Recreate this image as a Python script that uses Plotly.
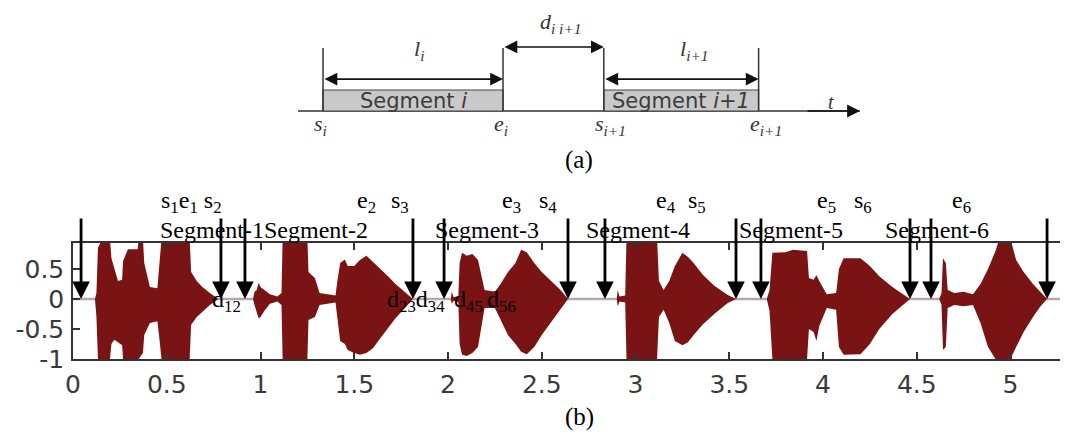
import plotly.graph_objects as go

# ---------------- (b) waveform data: envelope ----------------
env_t = [0.0, 0.117, 0.125, 0.133, 0.155, 0.197, 0.205, 0.220, 0.240, 0.262, 0.267, 0.293, 0.345,
         0.350, 0.373, 0.380, 0.410, 0.450, 0.462, 0.472, 0.622, 0.630, 0.660, 0.690, 0.730, 0.775,
         0.960, 0.968, 0.980, 0.990, 1.000, 1.020, 1.050, 1.090, 1.112, 1.118, 1.250, 1.256, 1.290,
         1.315, 1.400, 1.410, 1.425, 1.450, 1.465, 1.500, 1.530, 1.565, 1.600, 1.640, 1.680, 1.720,
         1.770, 1.813,
         2.015, 2.020, 2.030, 2.055, 2.062, 2.075, 2.100, 2.130, 2.160, 2.180, 2.195, 2.250, 2.280,
         2.320, 2.360, 2.390, 2.420, 2.460, 2.500, 2.550, 2.600, 2.640,
         2.900, 2.905, 2.915, 2.945, 2.952, 3.115, 3.125, 3.150, 3.180, 3.210, 3.250, 3.280, 3.310,
         3.360, 3.420, 3.490, 3.536,
         3.700, 3.715, 3.730, 3.800, 3.840, 3.915, 3.925, 3.950, 3.965, 3.980, 4.020, 4.070, 4.085,
         4.110, 4.200, 4.250, 4.300, 4.370, 4.464,
         4.620, 4.632, 4.640, 4.655, 4.665, 4.700, 4.750, 4.800, 4.840, 4.880, 4.920, 4.940, 5.000,
         5.030, 5.070, 5.120, 5.160, 5.195, 5.400]
env_up = [0, 0, 0.1, 0.85, 1.0, 1.0, 0.68, 0.5, 0.3, 0.32, 0.63, 0.83, 0.83,
          1.0, 1.0, 0.6, 0.2, 0.18, 0.6, 1.0, 1.0, 0.45, 0.3, 0.2, 0.1, 0,
          0, 0.12, 0.15, 0.27, 0.2, 0.15, 0.08, 0.04, 0.1, 1.0, 1.0, 0.45, 0.35,
          0.1, 0.06, 0.3, 0.6, 0.66, 0.55, 0.55, 0.65, 0.72, 0.62, 0.5, 0.38, 0.25,
          0.12, 0,
          0, 0.12, 0.03, 0.05, 0.6, 0.77, 0.72, 0.75, 0.65, 0.35, 0.15, 0.12, 0.25,
          0.45, 0.6, 0.82, 0.78, 0.6, 0.45, 0.3, 0.15, 0,
          0, 0.15, 0.04, 0.06, 1.0, 1.0, 0.3, 0.15, 0.3, 0.55, 0.77, 0.7, 0.6,
          0.4, 0.22, 0.07, 0,
          0, 0.15, 0.77, 0.78, 0.82, 0.8, 0.35, 0.32, 0.4, 0.3, 0.08, 0.1, 0.5,
          0.68, 0.68, 0.55, 0.38, 0.2, 0,
          0, 0.1, 0.68, 0.6, 0.15, 0.1, 0.12, 0.08, 0.25, 0.5, 0.8, 1.0, 1.0,
          0.65, 0.45, 0.25, 0.12, 0, 0]
env_lo = [0, 0, -0.3, -1.0, -1.0, -1.0, -0.75, -0.68, -0.72, -0.77, -1.0, -1.0, -1.0,
          -1.0, -0.9, -0.6, -0.4, -0.37, -0.7, -1.0, -1.0, -0.43, -0.3, -0.22, -0.1, 0,
          0, -0.1, -0.22, -0.32, -0.3, -0.2, -0.08, -0.04, -0.1, -1.0, -1.0, -0.35, -0.3,
          -0.1, -0.06, -0.35, -0.7, -0.75, -0.85, -0.9, -0.93, -0.9, -0.82, -0.65, -0.48, -0.32,
          -0.15, 0,
          0, -0.08, -0.03, -0.05, -0.75, -0.93, -0.95, -0.9, -0.8, -0.45, -0.15, -0.15, -0.35,
          -0.6, -0.75, -0.88, -0.92, -0.8, -0.6, -0.38, -0.18, 0,
          0, -0.12, -0.04, -0.06, -1.0, -1.0, -0.3, -0.18, -0.4, -0.7, -0.77, -0.72, -0.6,
          -0.42, -0.25, -0.07, 0,
          0, -0.2, -1.0, -1.0, -1.0, -1.0, -0.5, -0.55, -0.7, -0.45, -0.15, -0.18, -0.8,
          -0.93, -0.92, -0.75, -0.5, -0.25, 0,
          0, -0.1, -0.85, -0.8, -0.15, -0.1, -0.12, -0.1, -0.4, -0.8, -1.0, -1.0, -1.0,
          -0.8, -0.55, -0.3, -0.12, 0, 0]

# segment boundaries s1 e1 s2 e2 ... (seconds)
boundary_t = [0.043, 0.789, 0.917, 1.813, 1.979, 2.64, 2.837, 3.536, 3.669, 4.464, 4.576, 5.195]

x_ticks = [0, 0.5, 1, 1.5, 2, 2.5, 3, 3.5, 4, 4.5, 5]
x_ticktext = ["0", "0.5", "1", "1.5", "2", "2.5", "3", "3.5", "4", "4.5", "5"]
y_ticks = [-1, -0.5, 0, 0.5]
y_ticktext = ["-1", "-0.5", "0", "0.5"]

se_labels = ["s<sub>1</sub>e<sub>1</sub> s<sub>2</sub>", "e<sub>2</sub>", "s<sub>3</sub>", "e<sub>3</sub>",
             "s<sub>4</sub>", "e<sub>4</sub>", "s<sub>5</sub>", "e<sub>5</sub>", "s<sub>6</sub>", "e<sub>6</sub>"]
se_label_t = [0.63, 1.563, 1.744, 2.341, 2.533, 3.163, 3.328, 4.021, 4.213, 4.741]
seg_labels = ["Segment-1Segment-2", "Segment-3", "Segment-4", "Segment-5", "Segment-6"]
seg_label_t = [1.02, 2.208, 3.013, 3.829, 4.608]
gap_labels = ["d<sub>12</sub>", "d<sub>23</sub>d<sub>34</sub>", "d<sub>45</sub>", "d<sub>56</sub>"]
gap_label_t = [0.816, 1.829, 2.107, 2.283]

# ---------------- (a) schematic data ----------------
scheme_bounds = [0.0, 1.0, 1.56, 2.42]        # s_i, e_i, s_i+1, e_i+1
scheme_axis = [-0.139, 2.983]                 # time axis start / arrow tip
scheme_bound_labels = ["<i>s<sub>i</sub></i>", "<i>e<sub>i</sub></i>",
                       "<i>s<sub>i+1</sub></i>", "<i>e<sub>i+1</sub></i>"]

RED = "#7a1414"
INK = "#333333"
W, H = 1068, 445
OFF = 8          # page body margin of the html page (pixels)
TOP_H = 170      # pixel height of the schematic panel


def px(xw):      # window x pixel -> figure paper fraction
    return min(1.0, (xw - OFF) / W)


def py(yw):      # window y pixel -> figure paper fraction
    return 1 - (yw - OFF) / H


fig = go.Figure()

# waveform envelope
fig.add_trace(go.Scatter(x=env_t, y=env_lo, mode="lines", line=dict(color=RED, width=0),
                         showlegend=False, hoverinfo="skip", xaxis="x", yaxis="y"))
fig.add_trace(go.Scatter(x=env_t, y=env_up, mode="lines", line=dict(color=RED, width=0),
                         fill="tonexty", fillcolor=RED, showlegend=False, hoverinfo="skip",
                         xaxis="x", yaxis="y"))

# schematic: time axis line
fig.add_trace(go.Scatter(x=scheme_axis, y=[0, 0], mode="lines", line=dict(color=INK, width=1.5),
                         showlegend=False, hoverinfo="skip", xaxis="x2", yaxis="y2"))
# schematic: segment boxes
for k in (0, 2):
    a, b = scheme_bounds[k], scheme_bounds[k + 1]
    fig.add_trace(go.Scatter(x=[a, b, b, a, a], y=[0, 0, 1, 1, 0], mode="lines", fill="toself",
                             fillcolor="#c9c9c9", line=dict(color="#444444", width=1.2),
                             showlegend=False, hoverinfo="skip", xaxis="x2", yaxis="y2"))
# schematic: boundary markers
for b in scheme_bounds:
    fig.add_trace(go.Scatter(x=[b, b], y=[0, 3.0], mode="lines", line=dict(color=INK, width=1.5),
                             showlegend=False, hoverinfo="skip", xaxis="x2", yaxis="y2"))

ann = []
serif = "Liberation Serif"


def dbl_arrow(x0, x1, yv):
    ann.append(dict(x=x1, y=yv, ax=x0, ay=yv, xref="x2", yref="y2", axref="x2", ayref="y2",
                    text="", showarrow=True, arrowhead=2, startarrowhead=2, arrowside="end+start",
                    arrowsize=1.6, startarrowsize=1.6, arrowwidth=1.6, arrowcolor="#111"))


dbl_arrow(scheme_bounds[0], scheme_bounds[1], 1.52)
dbl_arrow(scheme_bounds[2], scheme_bounds[3], 1.52)
dbl_arrow(scheme_bounds[1], scheme_bounds[2], 3.05)
ann.append(dict(x=scheme_axis[1], y=0, ax=scheme_axis[1] - 0.3, ay=0, xref="x2", yref="y2",
                axref="x2", ayref="y2", text="", showarrow=True, arrowhead=2, arrowsize=1.6,
                arrowwidth=1.6, arrowcolor="#111"))

# schematic labels
for k in (0, 2):
    a, b = scheme_bounds[k], scheme_bounds[k + 1]
    txt = "Segment <i>i</i>" if k == 0 else "Segment <i>i+1</i>"
    ann.append(dict(x=(a + b) / 2, y=0.5, xref="x2", yref="y2", text=txt, showarrow=False,
                    font=dict(family="DejaVu Sans", size=21, color="#3c3c3c")))
ann.append(dict(x=0.494, y=2.9, xref="x2", yref="y2", xanchor="left", text="<i>l<sub>i</sub></i>",
                showarrow=False, font=dict(family=serif, size=22, color=INK)))
ann.append(dict(x=1.972, y=2.9, xref="x2", yref="y2", xanchor="left", text="<i>l<sub>i+1</sub></i>",
                showarrow=False, font=dict(family=serif, size=22, color=INK)))
ann.append(dict(x=1.194, y=4.2, xref="x2", yref="y2", xanchor="left", text="<i>d<sub>i i+1</sub></i>",
                showarrow=False, font=dict(family=serif, size=22, color=INK)))
ann.append(dict(x=2.822, y=0.45, xref="x2", yref="y2", text="<i>t</i>",
                showarrow=False, font=dict(family=serif, size=20, color=INK)))
for b, lab in zip(scheme_bounds, scheme_bound_labels):
    ann.append(dict(x=b - 0.06, y=-0.68, xref="x2", yref="y2", xanchor="left", text=lab,
                    showarrow=False, font=dict(family=serif, size=22, color=INK)))

ann.append(dict(x=px(579), y=py(160), xref="paper", yref="paper", text="(a)", showarrow=False,
                font=dict(family=serif, size=25, color="black")))
ann.append(dict(x=px(579), y=py(433), xref="paper", yref="paper", text="(b)", showarrow=False,
                font=dict(family=serif, size=25, color="black")))

# waveform text labels
for t, lab in zip(se_label_t, se_labels):
    ann.append(dict(x=t, y=py(202), xref="x", yref="paper", text=lab, showarrow=False,
                    font=dict(family=serif, size=24, color="black")))
for t, lab in zip(seg_label_t, seg_labels):
    ann.append(dict(x=t, y=py(230), xref="x", yref="paper", text=lab, showarrow=False,
                    font=dict(family=serif, size=24, color="black")))
for t, lab in zip(gap_label_t, gap_labels):
    ann.append(dict(x=t, y=py(318), xref="x", yref="paper", text=lab, showarrow=False,
                    font=dict(family=serif, size=24, color="black")))

# boundary arrows
for t in boundary_t:
    ann.append(dict(x=t, y=0, xref="x", yref="y", ax=0, ay=-82, text="", showarrow=True,
                    arrowhead=2, arrowsize=1.25, arrowwidth=2.8, arrowcolor="black"))

axis_font = dict(family="DejaVu Sans", size=25, color="#3a3a3a")
x_left, x_right = 73, 1076          # window pixels of the waveform frame
fig.update_layout(
    template="none",
    width=W, height=H, margin=dict(l=0, r=0, t=0, b=0, pad=0, autoexpand=False),
    paper_bgcolor="white", plot_bgcolor="rgba(0,0,0,0)", showlegend=False,
    xaxis=dict(domain=[px(x_left), px(x_right)], range=[0, (x_right - x_left) / 187.5],
               tickvals=x_ticks, ticktext=x_ticktext,
               ticks="inside", ticklen=7, tickwidth=1.5, tickcolor=INK, showline=True,
               linecolor=INK, linewidth=1.5, mirror="ticks", showgrid=False, zeroline=False,
               tickfont=axis_font, ticklabelstandoff=2, anchor="y", fixedrange=True,
               automargin=False),
    yaxis=dict(domain=[py(359), py(243)], range=[-1, 0.933], tickvals=y_ticks,
               ticktext=y_ticktext, ticks="inside", ticklen=7, tickwidth=1.5, tickcolor=INK,
               showline=True, linecolor=INK, linewidth=1.5, mirror="ticks", showgrid=False,
               zeroline=False, tickfont=axis_font, ticklabelstandoff=2, anchor="x", fixedrange=True,
               automargin=False),
    xaxis2=dict(domain=[0, 1], range=[-(323 - OFF) / 180, (W - 323 + OFF) / 180], visible=False,
                anchor="y2", fixedrange=True, automargin=False),
    yaxis2=dict(domain=[1 - TOP_H / H, 1], range=[(111 - OFF - TOP_H) / 21, (111 - OFF) / 21],
                visible=False, anchor="x2", fixedrange=True, automargin=False),
    shapes=[dict(type="line", xref="x domain", x0=0, x1=1, yref="y", y0=0, y1=0,
                 line=dict(color="#b9a7a7", width=2.5), layer="below")],
    annotations=ann,
)

fig.write_html("out.html")
